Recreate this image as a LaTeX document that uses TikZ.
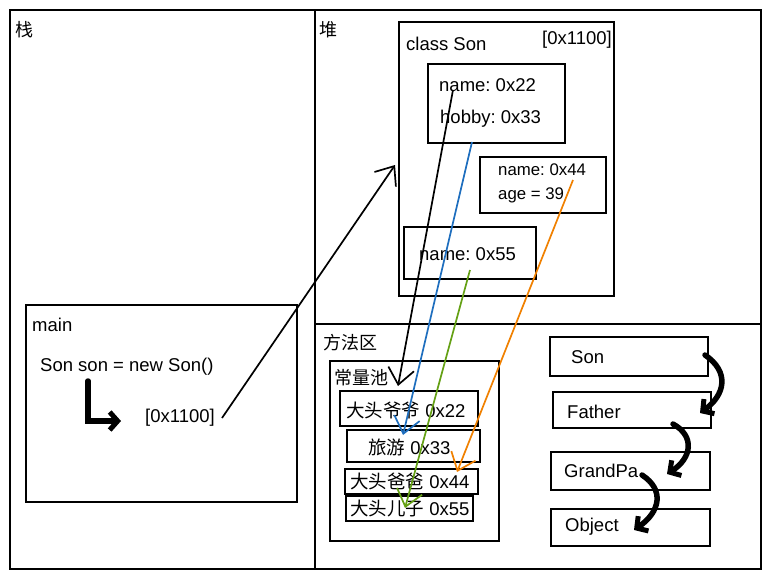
\documentclass[tikz,border=0pt]{standalone}
\usepackage{fontspec}
\setmainfont{Liberation Sans}
\newfontfamily\cjk{Noto Sans CJK SC}
\usetikzlibrary{positioning, arrows.meta}
\frenchspacing
\tikzset{
box/.style={draw, line width=1.5pt, inner sep=0pt},
txt/.style={anchor=west, inner sep=0pt, font=\fontsize{18.5}{20}\selectfont},
small/.style={anchor=west, inner sep=0pt, font=\fontsize{16.8}{18}\selectfont},
zh/.style={anchor=west, inner sep=0pt, font=\cjk\fontsize{18}{20}\selectfont},
ptr/.style={line width=1.7pt, -{Straight Barb[length=16pt,width=26pt]}},
bold/.style={line width=5.5pt, line cap=round, -{Straight Barb[length=8pt,width=18pt,line width=5pt]}},
}
\definecolor{ptrblue}{RGB}{30,110,190}
\definecolor{ptrgreen}{RGB}{100,160,20}
\definecolor{ptrorange}{RGB}{240,128,0}

\begin{document}
\begin{tikzpicture}[x=1pt, y=-1pt]
    \useasboundingbox (0,0) rectangle (771,578);

    %regions
    \draw[line width=1.6pt] (10,10) rectangle (761,569);
    \draw[line width=1.6pt] (315,10)--(315,569);
    \draw[line width=1.6pt] (315,324)--(761,324);
    \node[zh] (stack) at (15,30) {栈};
    \node[zh] (heap) at (319,30) {堆};
    \node[zh] (method) at (323,343) {方法区};

    %stack
    \node[box, minimum width=271pt, minimum height=197pt] (main) at (161.5,403.5) { };
    \node[txt] (mainlbl) at (32,325) {main};
    \node[txt] (newson) at (40,367) {Son son = new Son()};
    \node[txt] (addr) at (145,418) {[0x1100]};

    %heap
    \node[box, minimum width=215pt, minimum height=274pt] (sonobj) at (506.5,159) { };
    \node[txt] (classson) at (406,44) {class Son};
    \node[txt] (sonaddr) at (542,40) {[0x1100]};
    \node[box, minimum width=137pt, minimum height=79pt] (gpa) at (496.5,103.5) { };
    \node[txt] (name22) at (439,85) {name: 0x22};
    \node[txt] (hobby33) at (440,119) {hobby: 0x33};
    \node[box, minimum width=126pt, minimum height=56pt] (fa) at (543,185) { };
    \node[small] (name44) at (498,170) {name: 0x44};
    \node[small] (age39) at (498,195) {age = 39};
    \node[box, minimum width=132pt, minimum height=52pt] (so) at (470,253) { };
    \node[txt] (name55) at (419,254) {name: 0x55};

    %constant pool
    \node[box, minimum width=169pt, minimum height=180pt] (pool) at (414.5,451) { };
    \node[zh] (poollbl) at (334,378) {常量池};
    \node[box, minimum width=138pt, minimum height=35pt] (p22) at (409,408.5) { };
    \node[box, minimum width=133pt, minimum height=32pt] (p33) at (413.5,446) { };
    \node[box, minimum width=133pt, minimum height=25pt] (p44) at (411.5,481.5) { };
    \node[box, minimum width=127pt, minimum height=25pt] (p55) at (409.5,508.5) { };
    \node[txt] (v22) at (346,410) {{\cjk 大头爷爷} 0x22};
    \node[txt] (v33) at (368,447) {{\cjk 旅游} 0x33};
    \node[txt] (v44) at (350,481) {{\cjk 大头爸爸} 0x44};
    \node[txt] (v55) at (350,508) {{\cjk 大头儿子} 0x55};

    %classes
    \node[box, minimum width=158pt, minimum height=39pt] (cson) at (629,356.5) { };
    \node[box, minimum width=158pt, minimum height=36pt] (cfather) at (632,410) { };
    \node[box, minimum width=159pt, minimum height=38pt] (cgrandpa) at (630.5,471) { };
    \node[box, minimum width=159pt, minimum height=37pt] (cobject) at (630.5,527.5) { };
    \node[txt] (tson) at (571,357) {Son};
    \node[txt] (tfather) at (567,412) {Father};
    \node[txt] (tgrandpa) at (564,471) {GrandPa};
    \node[txt] (tobject) at (565,527) {Object};

    %pointer ends
    \coordinate (objtip) at (395,165);
    \coordinate (s22) at (453,90);
    \coordinate (s33) at (472,142);
    \coordinate (s44) at (573,180);
    \coordinate (s55) at (470,270);
    \coordinate (t22) at (398,386);
    \coordinate (t33) at (403,435);
    \coordinate (t44) at (457,472);
    \coordinate (t55) at (405,508);

    % pointers
    \draw[ptr] ([xshift=7pt]addr.east)--(objtip);
    \draw[ptr] (s22)--(t22);
    \draw[ptr, ptrblue] (s33)--(t33);
    \draw[ptr, ptrorange] (s44)--(t44);
    \draw[ptr, ptrgreen] (s55)--(t55);

    % thick arrows
    \draw[bold] (88,381)--(88,421)--(121,421);
    \draw[bold] (705,355) .. controls (730,372) and (725,395) .. (700,413);
    \draw[bold] (673,424) .. controls (695,436) and (692,458) .. (667,474);
    \draw[bold] (642,475) .. controls (665,490) and (660,512) .. (634,530);
\end{tikzpicture}
\end{document}
